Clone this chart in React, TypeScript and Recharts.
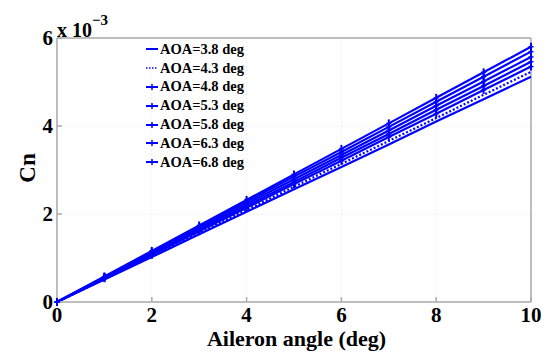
import { LineChart, Line, XAxis, YAxis, CartesianGrid, ReferenceLine } from "recharts";

const aileron = [0, 1, 2, 3, 4, 5, 6, 7, 8, 9, 10];

// Cn values in units of 1e-3
const cn38 = [0, 0.51, 1.02, 1.54, 2.05, 2.56, 3.07, 3.58, 4.1, 4.61, 5.12];
const cn43 = [0, 0.52, 1.05, 1.57, 2.09, 2.62, 3.14, 3.66, 4.18, 4.71, 5.23];
const cn48 = [0, 0.54, 1.07, 1.61, 2.14, 2.68, 3.21, 3.75, 4.28, 4.82, 5.35];
const cn53 = [0, 0.55, 1.09, 1.64, 2.18, 2.73, 3.28, 3.82, 4.37, 4.91, 5.46];
const cn58 = [0, 0.56, 1.11, 1.67, 2.23, 2.79, 3.34, 3.9, 4.46, 5.01, 5.57];
const cn63 = [0, 0.57, 1.14, 1.71, 2.28, 2.85, 3.41, 3.98, 4.55, 5.12, 5.69];
const cn68 = [0, 0.58, 1.16, 1.74, 2.32, 2.9, 3.48, 4.06, 4.64, 5.22, 5.8];

const xTicks = [0, 2, 4, 6, 8, 10];
const yTicks = [0, 2, 4, 6];

const series = [
  { key: "a38", name: "AOA=3.8 deg", values: cn38, dash: undefined, marker: false },
  { key: "a43", name: "AOA=4.3 deg", values: cn43, dash: "2 2", marker: false },
  { key: "a48", name: "AOA=4.8 deg", values: cn48, dash: undefined, marker: true },
  { key: "a53", name: "AOA=5.3 deg", values: cn53, dash: undefined, marker: true },
  { key: "a58", name: "AOA=5.8 deg", values: cn58, dash: undefined, marker: true },
  { key: "a63", name: "AOA=6.3 deg", values: cn63, dash: undefined, marker: true },
  { key: "a68", name: "AOA=6.8 deg", values: cn68, dash: undefined, marker: true },
];

const data = aileron.map((x, i) => {
  const row: Record<string, number> = { x };
  series.forEach((s) => (row[s.key] = s.values[i]));
  return row;
});

const BLUE = "#0000ff";
const FONT = "'Liberation Serif', 'Times New Roman', serif";

const PlusDot = (props: any) => {
  const { cx, cy } = props;
  if (cx == null || cy == null) return null;
  return (
    <g>
      <line x1={cx - 2.5} y1={cy} x2={cx + 2.5} y2={cy} stroke={BLUE} strokeWidth={1.5} />
      <line x1={cx} y1={cy - 4} x2={cx} y2={cy + 4} stroke={BLUE} strokeWidth={2} />
    </g>
  );
};

const LegendBox = () => (
  <div
    style={{
      position: "absolute",
      left: 145,
      top: 40,
      fontFamily: FONT,
      fontWeight: "bold",
      fontSize: 14.5,
      color: "#000",
    }}
  >
    {series.map((s) => (
      <div key={s.key} style={{ display: "flex", alignItems: "center", height: 18.8 }}>
        <svg width={14} height={10} style={{ marginRight: 1 }}>
          <line
            x1={1}
            y1={5}
            x2={13}
            y2={5}
            stroke={BLUE}
            strokeWidth={s.dash ? 1.5 : 2}
            strokeDasharray={s.dash ? "1.5 1.5" : undefined}
          />
          {s.marker && <line x1={7} y1={2} x2={7} y2={8} stroke={BLUE} strokeWidth={1.5} />}
        </svg>
        <span>{s.name}</span>
      </div>
    ))}
  </div>
);

export default function App() {
  return (
    <div style={{ position: "absolute", left: 0, top: 0, width: 549, height: 353, background: "#fff" }}>
      <LineChart
        width={549}
        height={353}
        data={data}
        margin={{ top: 38, right: 18, bottom: 21, left: 27 }}
      >
        <CartesianGrid stroke="#e4e4e4" strokeDasharray="1 3" />
        <XAxis
          dataKey="x"
          type="number"
          domain={[0, 10]}
          ticks={xTicks}
          height={30}
          stroke="#aaaaaa"
          strokeWidth={1.5}
          tickSize={-5}
          tickMargin={10}
          tick={{ fill: "#000", fontFamily: FONT, fontWeight: "bold", fontSize: 21 }}
        />
        <YAxis
          type="number"
          domain={[0, 6]}
          ticks={yTicks}
          width={30}
          stroke="#aaaaaa"
          strokeWidth={1.5}
          tickSize={-5}
          tickMargin={9}
          tick={{ fill: "#000", fontFamily: FONT, fontWeight: "bold", fontSize: 21 }}
        />
        <ReferenceLine y={6} stroke="#aaaaaa" strokeWidth={1.5} />
        <ReferenceLine x={10} stroke="#aaaaaa" strokeWidth={1.5} />
        {series.map((s) => (
          <Line
            key={s.key}
            dataKey={s.key}
            name={s.name}
            stroke={BLUE}
            strokeWidth={2.2}
            strokeDasharray={s.dash}
            dot={s.marker ? <PlusDot /> : false}
            activeDot={false}
            isAnimationActive={false}
          />
        ))}
      </LineChart>
      <LegendBox />
      <div
        style={{
          position: "absolute",
          left: 28,
          top: 168,
          transform: "translate(-50%, -50%) rotate(-90deg)",
          fontFamily: FONT,
          fontWeight: "bold",
          fontSize: 23,
        }}
      >
        Cn
      </div>
      <div
        style={{
          position: "absolute",
          left: 0,
          width: 549,
          top: 327,
          textAlign: "center",
          paddingLeft: 44,
          boxSizing: "border-box",
          fontFamily: FONT,
          fontWeight: "bold",
          fontSize: 22,
          lineHeight: "24px",
        }}
      >
        Aileron angle (deg)
      </div>
      <div
        style={{
          position: "absolute",
          left: 57,
          top: 12,
          fontFamily: FONT,
          fontWeight: "bold",
          fontSize: 20,
          lineHeight: "24px",
        }}
      >
        x 10<sup style={{ fontSize: 15, position: "relative", top: -4 }}>−3</sup>
      </div>
    </div>
  );
}
